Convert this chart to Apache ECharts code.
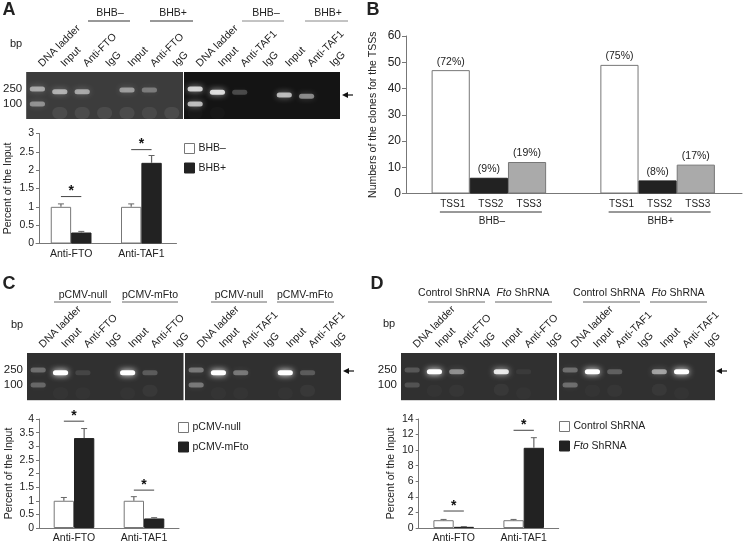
<!DOCTYPE html>
<html><head><meta charset="utf-8">
<style>html,body{margin:0;padding:0;background:#fff}#c{width:745px;height:544px}</style>
<script src="https://cdn.jsdelivr.net/npm/echarts@6/dist/echarts.min.js"></script>
</head><body><div id="c"></div>
<script>
// ---------- data ----------
const lanesFTO  = ['DNA ladder','Input','Anti-FTO','IgG','Input','Anti-FTO','IgG'];
const lanesTAF1 = ['DNA ladder','Input','Anti-TAF1','IgG','Input','Anti-TAF1','IgG'];
const gelTicks = [100, 250];
// gel bands: [lane, size in bp, brightness]
const gelA1 = [[0,250,.5],[0,100,.4],[1,211,.55],[2,211,.5],[4,234,.45],[5,234,.3]];
const smearA1 = [[1,58,.08],[2,58,.08],[3,58,.08],[4,58,.08],[5,58,.07],[6,58,.08]];
const gelA2 = [[0,250,.75],[0,100,.65],[1,205,.8],[2,205,.22],[4,173,.65],[5,161,.45]];
const smearA2 = [[0,58,.02],[1,58,.02]];
const gelC1 = [[0,250,.28],[0,100,.25],[1,211,1],[2,211,.1],[4,211,1],[5,211,.2]];
const gelC2 = [[0,250,.32],[0,100,.32],[1,211,1],[2,211,.32],[4,211,1],[5,211,.2]];
const gelD1 = [[0,250,.18],[0,100,.16],[1,224,1],[2,224,.42],[4,224,.85],[5,224,.05]];
const gelD2 = [[0,250,.28],[0,100,.28],[1,224,1],[2,224,.22],[4,224,.5],[5,224,1]];
const smearC = [[1,60,.025],[2,60,.02],[4,60,.02],[5,70,.04]];
const smearD = [[1,70,.025],[2,70,.03],[4,75,.04],[5,60,.02]];

const chipCats = ['Anti-FTO','Anti-TAF1'];
const namesA = ['BHB\u2013','BHB+'];
const meanA = [[1,1],[0.3,2.2]];
const errA  = [[0.08,0.08],[0.03,0.2]];
const sigA  = [1.28,2.56];
const ticksA = {max:3,interval:0.5};
const namesC = ['pCMV-null','pCMV-mFto'];
const meanC = [[1,1],[3.3,0.35]];
const errC  = [[0.12,0.15],[0.35,0.03]];
const sigC  = [3.92,1.39];
const namesD = ['Control ShRNA','Fto ShRNA'];
const meanD = [[1,1],[0.15,10.3]];
const errD  = [[0.1,0.1],[0.03,1.3]];
const sigD  = [2.18,12.55];

const groupsB = ['BHB\u2013','BHB+'];
const tssNames = ['TSS1','TSS2','TSS3'];
const clonesB = [[47,49],[6,5],[12,11]];
const pctB = [['(72%)','(75%)'],['(9%)','(8%)'],['(19%)','(17%)']];

// ---------- style ----------
const FONT = '"Liberation Sans", Arial, sans-serif';
const INK = '#222';
const AXIS = '#777';
const FS = 10.5;
const grid = [], xAxis = [], yAxis = [], series = [], legend = [], graphic = [];

function addGel(box, lanes, bands, smear, bg, showY) {
  const i = grid.length;
  grid.push({left:box[0], top:box[1], width:box[2], height:box[3], show:true, backgroundColor:bg, borderWidth:0});
  xAxis.push({gridIndex:i, type:'category', position:'top', data:lanes,
    axisLine:{show:false}, axisTick:{show:false},
    axisLabel:{rotate:-45, align:'left', verticalAlign:'middle', interval:0, margin:4, padding:[0,0,0,4], fontFamily:FONT, fontSize:10.5, color:INK, hideOverlap:false}});
  yAxis.push({gridIndex:i, type:'log', logBase:10, min:40, max:700, splitLine:{show:false},
    axisLine:{show:false}, axisTick:{show:false},
    axisLabel:{show:showY, customValues:gelTicks, margin:4, fontFamily:FONT, fontSize:11.5, color:INK}});
  const draw = (thick, blur) => (p, api) => {
    const c = api.coord([api.value(0), api.value(1)]);
    const w = api.size([1,1])[0] * 0.68, a = api.value(2);
    return {type:'rect', shape:{x:c[0]-w/2, y:c[1]-thick/2, width:w, height:thick, r:thick/2},
      style:{fill:'rgba(255,255,255,'+a+')', shadowBlur:blur, shadowColor:'rgba(255,255,255,'+a+')'}};
  };
  series.push({type:'custom', xAxisIndex:i, yAxisIndex:i, data:smear, renderItem:draw(12,8), silent:true, clip:true, z:2});
  series.push({type:'custom', xAxisIndex:i, yAxisIndex:i, data:bands, renderItem:draw(5,6), silent:true, clip:true, z:3});
}

function addChip(box, names, means, errs, sig, yCfg, nameGap, yOffset, legendPos) {
  const i = grid.length, frac = 0.29;
  grid.push({left:box[0], top:box[1], width:box[2], height:box[3]});
  xAxis.push({gridIndex:i, type:'category', data:chipCats,
    axisLine:{lineStyle:{color:AXIS}}, axisTick:{inside:true, length:3, lineStyle:{color:AXIS}},
    axisLabel:{margin:5, fontFamily:FONT, fontSize:FS, color:INK, interval:0}});
  yAxis.push({gridIndex:i, type:'value', min:0, max:yCfg.max, interval:yCfg.interval, offset:yOffset,
    name:'Percent of the Input', nameLocation:'middle', nameGap:nameGap,
    nameTextStyle:{fontFamily:FONT, fontSize:FS, color:INK},
    splitLine:{show:false}, axisLine:{show:true, lineStyle:{color:AXIS}},
    axisTick:{show:true, length:3, lineStyle:{color:AXIS}},
    axisLabel:{margin:5, fontFamily:FONT, fontSize:FS, color:INK}});
  names.forEach((n, s) => {
    series.push({type:'bar', name:n, xAxisIndex:i, yAxisIndex:i, data:means[s], barWidth:(frac*100)+'%', barGap:0,
      itemStyle: s ? {color:'#222', borderColor:'#222', borderWidth:1} : {color:'#fff', borderColor:'#777', borderWidth:1}, silent:true});
    const data = means[s].map((m, k) => [k, m, errs[s][k]]);
    series.push({type:'custom', xAxisIndex:i, yAxisIndex:i, data, silent:true, clip:false, z:4,
      renderItem:(p, api) => {
        const bw = api.size([1,0])[0]*frac;
        const a = api.coord([api.value(0), api.value(1)]);
        const b = api.coord([api.value(0), api.value(1)+api.value(2)]);
        const x = a[0] + (s-0.5)*bw;
        return {type:'group', children:[
          {type:'line', shape:{x1:x,y1:a[1],x2:x,y2:b[1]}, style:{stroke:'#666',lineWidth:1.2}},
          {type:'line', shape:{x1:x-3,y1:b[1],x2:x+3,y2:b[1]}, style:{stroke:'#666',lineWidth:1}}]};
      }});
  });
  series.push({type:'custom', xAxisIndex:i, yAxisIndex:i, data:sig.map((v,k)=>[k,v]), silent:true, clip:false, z:4,
    renderItem:(p, api) => {
      const bw = api.size([1,0])[0]*frac;
      const c = api.coord([api.value(0), api.value(1)]);
      return {type:'group', children:[
        {type:'line', shape:{x1:c[0]-bw/2,y1:c[1],x2:c[0]+bw/2,y2:c[1]}, style:{stroke:'#444',lineWidth:1}},
        {type:'text', style:{x:c[0], y:c[1]-5, text:'*', align:'center', verticalAlign:'middle', font:'bold 14px '+FONT, fill:'#111'}}]};
    }});
  legend.push({data:names, orient:'vertical', left:legendPos[0], top:legendPos[1], itemWidth:10, itemHeight:10, itemGap:8.5,
    selectedMode:false, padding:0, icon:'rect', itemStyle:{borderWidth:1},
    textStyle:{fontFamily:FONT, fontSize:FS, color:INK, padding:[0,0,0,-1], rich:{i:{fontStyle:'italic',fontFamily:FONT,fontSize:FS,color:INK}}},
    formatter:n => n.replace(/^Fto/, '{i|Fto}')});
}

// ---------- panel B ----------
(function () {
  const i = grid.length, frac = 0.2262;
  grid.push({left:404.5, top:36, width:337.5, height:157.5});
  xAxis.push({gridIndex:i, type:'category', data:groupsB, axisLine:{lineStyle:{color:AXIS}},
    axisTick:{inside:true, length:3, lineStyle:{color:AXIS}}, axisLabel:{show:false}});
  yAxis.push({gridIndex:i, type:'value', min:0, max:60, interval:10, offset:-1.5,
    name:'Numbers of the clones for the TSSs', nameLocation:'middle', nameGap:27,
    nameTextStyle:{fontFamily:FONT, fontSize:FS, color:INK},
    splitLine:{show:false}, axisLine:{show:true, lineStyle:{color:AXIS}},
    axisTick:{show:true, length:4, lineStyle:{color:AXIS}},
    axisLabel:{margin:5, fontFamily:FONT, fontSize:12, color:INK}});
  const fills = ['#fff','#222','#aaa'], strokes = ['#777','#222','#777'];
  tssNames.forEach((n, s) => series.push({type:'bar', name:n, xAxisIndex:i, yAxisIndex:i, data:clonesB[s],
    barWidth:(frac*100)+'%', barGap:0, silent:true, itemStyle:{color:fills[s], borderColor:strokes[s], borderWidth:1},
    label:{show:true, position:'top', distance:3, fontFamily:FONT, fontSize:FS, color:INK,
      formatter:p => pctB[s][p.dataIndex]}}));
  series.push({type:'custom', xAxisIndex:i, yAxisIndex:i, data:groupsB.map((g,k)=>[k,0]), silent:true, clip:false,
    renderItem:(p, api) => {
      const band = api.size([1,0])[0], c = api.coord([api.value(0),0]), g = groupsB[api.value(0)];
      const cx = c[0] + 2;
      const kids = tssNames.map((t,s) => ({type:'text', style:{x:cx+(s-1)*band*frac, y:c[1]+11, text:t, align:'center', verticalAlign:'middle', font:'10px '+FONT, fill:INK}}));
      kids.push({type:'line', shape:{x1:cx-51,y1:c[1]+18.5,x2:cx+51,y2:c[1]+18.5}, style:{stroke:'#333',lineWidth:1}});
      kids.push({type:'text', style:{x:cx+1, y:c[1]+28, text:g, align:'center', verticalAlign:'middle', font:'10px '+FONT, fill:INK}});
      return {type:'group', children:kids};
    }});
})();

// ---------- gels and bars ----------
addGel([26,72,157,47], lanesFTO, gelA1, smearA1, '#3c3c3c', true);
addGel([184,72,156,47], lanesTAF1, gelA2, smearA2, '#141414', false);
addChip([36,133.5,140.5,110], namesA, meanA, errA, sigA, ticksA, 25, -3, [184,143]);

addGel([27,353,156.5,47], lanesFTO, gelC1, smearC, '#303030', true);
addGel([185,353,156,47], lanesTAF1, gelC2, smearC, '#303030', false);
addChip([39,419,140,109], namesC, meanC, errC, sigC, {max:4,interval:0.5}, 24, 0, [178,422]);

addGel([401,353,156,47], lanesFTO, gelD1, smearD, '#303030', true);
addGel([559,353,156,47], lanesTAF1, gelD2, smearD, '#303030', false);
addChip([418.7,419,140,109], namesD, meanD, errD, sigD, {max:14,interval:2}, 22, 0, [559,421]);

// ---------- annotations ----------
const txt = (x,y,t,o={}) => graphic.push({type:'text', x, y, silent:true,
  style:{text:t, align:o.align||'center', verticalAlign:'middle', fontFamily:FONT, fontSize:o.size||FS, fontWeight:o.weight||'normal', fill:INK, rich:o.rich}});
const rule = (x1,x2,y,c) => graphic.push({type:'line', silent:true, shape:{x1,y1:y,x2,y2:y}, style:{stroke:c,lineWidth:1}});
const arrow = (x,y) => {
  graphic.push({type:'line', silent:true, shape:{x1:x+3,y1:y,x2:x+11,y2:y}, style:{stroke:'#111',lineWidth:1.2}});
  graphic.push({type:'polygon', silent:true, shape:{points:[[x,y],[x+6,y-3],[x+6,y+3]]}, style:{fill:'#111'}});
};
txt(9,10,'A',{size:18,weight:'bold'}); txt(373,10,'B',{size:18,weight:'bold'});
txt(9,284,'C',{size:18,weight:'bold'}); txt(377,284,'D',{size:18,weight:'bold'});
txt(16,44,'bp',{size:11}); txt(17,325,'bp',{size:11}); txt(389,324,'bp',{size:11});

[[110,88,130,'BHB\u2013','#333'],[173,150,193,'BHB+','#333'],[266,242,284,'BHB\u2013','#888'],[328,305,348,'BHB+','#888']]
  .forEach(h => {txt(h[0],13,h[3]); rule(h[1],h[2],21,h[4]);});
[[83,54,111,'pCMV-null'],[150,122,178,'pCMV-mFto'],[239,211,267,'pCMV-null'],[305,277,334,'pCMV-mFto']]
  .forEach(h => {txt(h[0],295,h[3]); rule(h[1],h[2],302,'#666');});
const richI = {i:{fontStyle:'italic',fontFamily:FONT,fontSize:FS,fill:INK}, n:{fontFamily:FONT,fontSize:FS,fill:INK}};
[[454,428,485,'Control ShRNA'],[523,495,552,'{i|Fto}{n| ShRNA}'],[609,583,640,'Control ShRNA'],[678,650,707,'{i|Fto}{n| ShRNA}']]
  .forEach(h => {txt(h[0],293,h[3],{rich:richI}); rule(h[1],h[2],302,'#666');});
arrow(342,95); arrow(343,371); arrow(716,371);
[[27,183.5],[185,341],[401,557],[559,715]].forEach(r => rule(r[0],r[1],400.5,'#d4d4d4'));

echarts.init(document.getElementById('c'), null, {renderer:'canvas'}).setOption({
  animation:false, backgroundColor:'#fff', tooltip:{show:false},
  grid, xAxis, yAxis, series, legend, graphic
});
</script></body></html>
